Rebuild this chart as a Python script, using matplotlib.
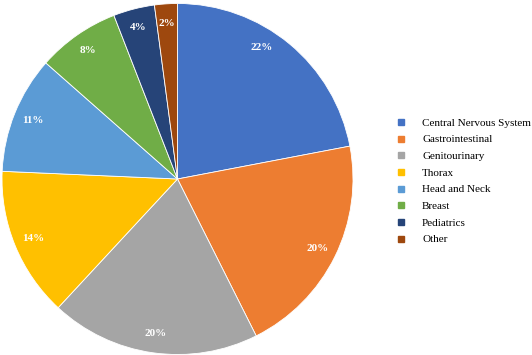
import matplotlib
matplotlib.use("Agg")
import matplotlib.pyplot as plt
from matplotlib.lines import Line2D
import numpy as np

categories = [
    "Central Nervous System",
    "Gastrointestinal",
    "Genitourinary",
    "Thorax",
    "Head and Neck",
    "Breast",
    "Pediatrics",
    "Other",
]
shares = [22.0, 20.6, 19.3, 13.8, 10.8, 7.6, 3.8, 2.1]
pct_labels = ["22%", "20%", "20%", "14%", "11%", "8%", "4%", "2%"]
colors = ["#4472C4", "#ED7D31", "#A5A5A5", "#FFC000",
          "#5B9BD5", "#70AD47", "#264478", "#9E480E"]

plt.rcParams["font.family"] = ["Liberation Serif", "DejaVu Serif"]

W, H = 532, 355
fig = plt.figure(figsize=(W / 100, H / 100), dpi=100)
ax = fig.add_axes([2 / W, 0.5 / H, 351 / W, 351 / H])

wedges, _ = ax.pie(shares, colors=colors, startangle=90, counterclock=False,
                   radius=1.0, wedgeprops={"linewidth": 0.6, "edgecolor": "white"})
ax.set_xlim(-1, 1)
ax.set_ylim(-1, 1)
ax.set_aspect("equal")
ax.axis("off")

# percentage labels inside each wedge (the first one sits a bit off-centre, like the original)
nudge = [7, 0, 0, 0, 0, 0, 0, 0]
for w, lab, dn in zip(wedges, pct_labels, nudge):
    ang = np.deg2rad((w.theta1 + w.theta2) / 2 + dn)
    r = 0.89
    ax.text(r * np.cos(ang), r * np.sin(ang), lab, ha="center", va="center",
            color="white", fontsize=8, fontweight="bold")

handles = [Line2D([0], [0], marker="s", color="none", markerfacecolor=c,
                  markeredgecolor=c, markersize=4) for c in colors]
fig.legend(handles, categories, loc="upper left",
           bbox_to_anchor=(396 / W, 1 - 118 / H), frameon=False,
           fontsize=8, handlelength=0.9, handletextpad=1.45,
           labelspacing=0.62, borderaxespad=0, borderpad=0)

fig.savefig("out.png", dpi=100)
